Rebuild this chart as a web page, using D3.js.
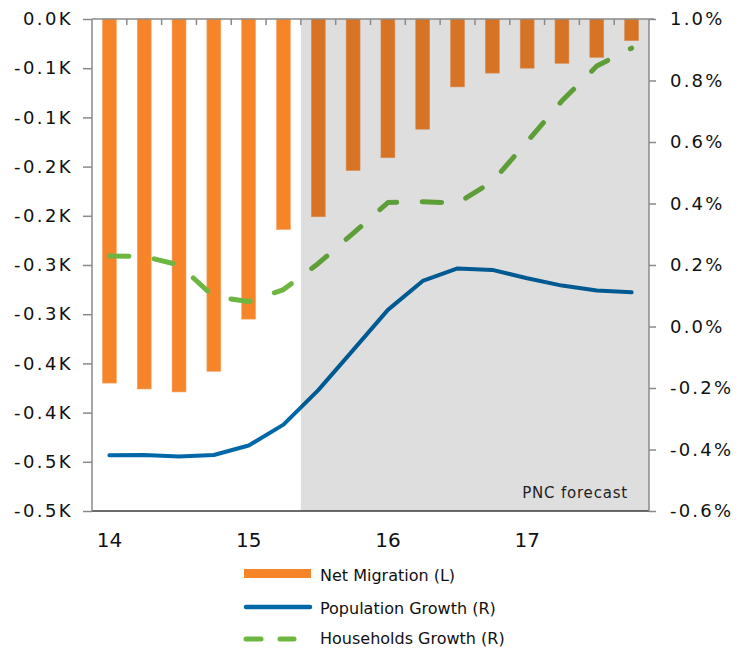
<!DOCTYPE html>
<html>
<head>
<meta charset="utf-8">
<script src="https://cdn.jsdelivr.net/npm/d3@7"></script>
<style>
  html, body { margin: 0; padding: 0; background: #fff; }
  svg { display: block; font-family: "DejaVu Sans", Verdana, sans-serif; }
</style>
</head>
<body>
<svg id="chart" width="750" height="648"></svg>
<script>
// Quarterly periods, 2014Q1 through 2017Q4
const quarters = ["14Q1","14Q2","14Q3","14Q4","15Q1","15Q2","15Q3","15Q4",
                  "16Q1","16Q2","16Q3","16Q4","17Q1","17Q2","17Q3","17Q4"];
const yearLabels = ["14", "15", "16", "17"];
const yearQuarters = ["14Q1", "15Q1", "16Q1", "17Q1"];
const forecastStart = "15Q3";

// Net migration, thousands (left axis)
const netMigration = [-0.370, -0.376, -0.379, -0.358, -0.305, -0.214,
                      -0.201, -0.154, -0.141, -0.112, -0.069, -0.055,
                      -0.050, -0.045, -0.039, -0.022];
// Population growth, % (right axis)
const populationGrowth = [-0.419, -0.418, -0.423, -0.418, -0.387, -0.319,
                          -0.207, -0.077, 0.054, 0.148, 0.189, 0.184,
                          0.157, 0.133, 0.117, 0.111];
// Households growth, % (right axis)
const householdsGrowth = [0.229, 0.228, 0.200, 0.097, 0.081, 0.120,
                          0.205, 0.303, 0.403, 0.406, 0.401, 0.471,
                          0.601, 0.734, 0.847, 0.905];

const leftTicks = [0, -0.05, -0.1, -0.15, -0.2, -0.25, -0.3, -0.35, -0.4, -0.45, -0.5];
const leftTickLabels = ["0.0K","-0.1K","-0.1K","-0.2K","-0.2K","-0.3K","-0.3K","-0.4K","-0.4K","-0.5K","-0.5K"];
const rightTicks = [1.0, 0.8, 0.6, 0.4, 0.2, 0.0, -0.2, -0.4, -0.6];
const rightTickLabels = ["1.0%","0.8%","0.6%","0.4%","0.2%","0.0%","-0.2%","-0.4%","-0.6%"];

const seriesNames = ["Net Migration (L)", "Population Growth (R)", "Households Growth (R)"];
const forecastLabel = "PNC forecast";

const colors = { bar: "#f6852a", pop: "#0068a8", hh: "#6cb641", axis: "#8a8a8a" };

const svg = d3.select("#chart");
const plot = { left: 92, right: 649, top: 19, bottom: 511 };

const x = d3.scaleBand().domain(quarters)
  .range([plot.left, plot.right]).paddingInner(0.6).paddingOuter(0.3);
const step = x.step();
const cx = q => x(q) + x.bandwidth() / 2;
const yL = d3.scaleLinear().domain([-0.5, 0]).range([plot.bottom, plot.top]);
const yR = d3.scaleLinear().domain([-0.6, 1.0]).range([plot.bottom, plot.top]);

// Bars hang down from zero
svg.append("g").selectAll("rect").data(quarters).join("rect")
  .attr("x", q => x(q))
  .attr("width", x.bandwidth())
  .attr("y", yL(0))
  .attr("height", (q, i) => yL(netMigration[i]) - yL(0))
  .attr("fill", colors.bar)
  .attr("stroke", "#f7a467").attr("stroke-width", 0.6);

const line = d3.line();

svg.append("path")
  .attr("d", line(quarters.map((q, i) => [cx(q), yR(populationGrowth[i])])))
  .attr("fill", "none").attr("stroke", colors.pop)
  .attr("stroke-width", 4).attr("stroke-linecap", "round").attr("stroke-linejoin", "round");

svg.append("path")
  .attr("d", line(quarters.map((q, i) => [cx(q), yR(householdsGrowth[i])])))
  .attr("fill", "none").attr("stroke", colors.hh)
  .attr("stroke-width", 5).attr("stroke-linecap", "round").attr("stroke-linejoin", "round")
  .attr("stroke-dasharray", "19.5,25.5");

// Forecast shading darkens everything beneath it
const shadeX = x(forecastStart) - step * x.paddingInner() / 2;
svg.append("rect")
  .attr("x", shadeX).attr("y", plot.top)
  .attr("width", plot.right - shadeX).attr("height", plot.bottom - plot.top)
  .attr("fill", "#000").attr("fill-opacity", 0.13);

svg.append("text")
  .attr("x", 628).attr("y", 498)
  .attr("text-anchor", "end")
  .attr("font-size", 15).attr("letter-spacing", 0.8)
  .attr("fill", "#222")
  .text(forecastLabel);

// Axes
const axisG = svg.append("g");

// top line at zero with category separators
axisG.append("line")
  .attr("x1", plot.left).attr("x2", plot.right + 5)
  .attr("y1", plot.top).attr("y2", plot.top)
  .attr("stroke", colors.axis).attr("stroke-width", 1.5);
axisG.selectAll("line.sep").data(quarters.slice(1)).join("line")
  .attr("class", "sep")
  .attr("x1", q => x(q) - step * x.paddingInner() / 2)
  .attr("x2", q => x(q) - step * x.paddingInner() / 2)
  .attr("y1", plot.top).attr("y2", plot.top + 6)
  .attr("stroke", colors.axis).attr("stroke-width", 1.5);

// bottom line
axisG.append("line")
  .attr("x1", plot.left).attr("x2", plot.right)
  .attr("y1", plot.bottom).attr("y2", plot.bottom)
  .attr("stroke", "#3a3a3a").attr("stroke-width", 1.5);

// left axis
const leftAxis = d3.axisLeft(yL).tickValues(leftTicks)
  .tickFormat((d, i) => leftTickLabels[i]).tickSize(9).tickPadding(10);
const gl = axisG.append("g").attr("transform", `translate(${plot.left},0)`).call(leftAxis);
gl.select(".domain").attr("stroke", colors.axis).attr("stroke-width", 1.5)
  .attr("d", `M0,${plot.top}V${plot.bottom}`);
gl.selectAll(".tick line").attr("stroke", colors.axis).attr("stroke-width", 1.5);
gl.selectAll(".tick text").attr("font-size", 18).attr("letter-spacing", 2.4)
  .attr("fill", "#111").attr("font-family", "DejaVu Sans, sans-serif");

// right axis
const rightAxis = d3.axisRight(yR).tickValues(rightTicks)
  .tickFormat((d, i) => rightTickLabels[i]).tickSize(7).tickPadding(14);
const gr = axisG.append("g").attr("transform", `translate(${plot.right},0)`).call(rightAxis);
gr.select(".domain").attr("stroke", colors.axis).attr("stroke-width", 1.5)
  .attr("d", `M0,${plot.top}V${plot.bottom}`);
gr.selectAll(".tick line").attr("stroke", colors.axis).attr("stroke-width", 1.5);
gr.selectAll(".tick text").attr("font-size", 18).attr("letter-spacing", 2.2)
  .attr("fill", "#111").attr("font-family", "DejaVu Sans, sans-serif");

// year labels under the first quarter of each year
axisG.selectAll("text.year").data(yearLabels).join("text")
  .attr("class", "year")
  .attr("x", (d, i) => cx(yearQuarters[i]))
  .attr("y", 547)
  .attr("text-anchor", "middle")
  .attr("font-size", 20).attr("fill", "#111")
  .text(d => d);

// Legend
const lg = svg.append("g");
lg.append("rect").attr("x", 244).attr("y", 569).attr("width", 67).attr("height", 9)
  .attr("fill", colors.bar);
lg.append("line").attr("x1", 246).attr("x2", 310).attr("y1", 607).attr("y2", 607)
  .attr("stroke", colors.pop).attr("stroke-width", 4.5).attr("stroke-linecap", "round");
[[246, 261], [280, 294]].forEach(([a, b]) => {
  lg.append("line").attr("x1", a).attr("x2", b).attr("y1", 639).attr("y2", 639)
    .attr("stroke", colors.hh).attr("stroke-width", 5).attr("stroke-linecap", "round");
});
lg.selectAll("text").data(seriesNames).join("text")
  .attr("x", 320)
  .attr("y", (d, i) => [581, 614, 644][i])
  .attr("font-size", 16).attr("fill", "#111")
  .text(d => d);
</script>
</body>
</html>
